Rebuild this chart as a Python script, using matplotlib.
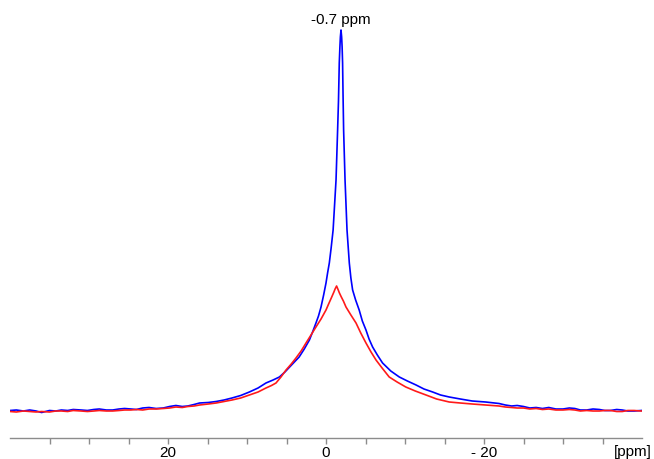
import matplotlib
matplotlib.use("Agg")
import matplotlib.pyplot as plt

plt.rcParams['font.family'] = ['Liberation Sans', 'DejaVu Sans']

# Blue spectrum (ppm, intensity)
blue_ppm = [40.0, 39.2, 38.3, 37.5, 36.7, 36.0, 35.0, 34.2, 33.5, 32.7, 32.0, 31.0, 30.2, 29.4,
            28.7, 27.8, 27.0, 26.2, 25.5, 24.7, 24.0, 23.2, 22.4, 21.5, 20.6, 19.8,
            19.0, 18.2, 17.5, 16.7, 16.0, 14.9, 13.9, 12.9, 11.9, 10.8, 9.7, 8.6, 7.6, 6.7,
            5.9, 5.2, 4.6, 4.0, 3.4, 2.75, 2.1, 1.7, 1.27, 0.95, 0.63, 0.3, 0.0,
            -0.2, -0.42, -0.65, -0.9, -1.27, -1.47, -1.58, -1.68, -1.76, -1.82, -1.9,
            -1.98, -2.04, -2.10, -2.16, -2.23, -2.41, -2.66, -2.95, -3.15,
            -3.37, -3.75, -4.2, -4.6, -5.06, -5.45, -5.9, -6.5, -7.16, -8.2, -9.28,
            -10.3, -11.4, -12.4, -13.5, -14.5, -15.6, -17.0, -18.5, -20.2, -21.9,
            -22.7, -23.5, -24.2, -25.0, -25.8, -26.6, -27.4, -28.2, -29.1, -30.0, -30.8,
            -31.5, -32.2, -33.0, -33.8, -34.6, -35.3, -36.0, -36.8, -37.5, -38.2, -39.0, -39.9]
blue_int = [0.5, 1.0, 0.0, 1.0, 0.0, -1.5, 0.5, 0.0, 1.0, 0.5, 1.5, 1.0, 0.5, 1.5,
            2.0, 1.0, 1.0, 2.0, 2.5, 2.0, 1.5, 3.0, 3.5, 2.5, 3.0, 4.5,
            5.5, 4.5, 5.0, 6.5, 8.0, 8.5, 9.5, 11.0, 13.0, 15.5, 19.0, 23.0, 28.0, 31.0,
            34.0, 39.0, 44.0, 49.0, 54.0, 62.0, 71.0, 79.0, 88.0, 95.0, 104.0, 116.0, 128.0,
            138.0, 148.0, 163.0, 181.0, 231.0, 281.0, 310.0, 348.0, 364.0, 374.0, 381.0,
            374.0, 364.0, 348.0, 315.0, 281.0, 231.0, 181.0, 148.0, 133.0,
            121.0, 111.0, 101.0, 90.0, 81.0, 72.0, 64.0, 56.0, 48.0, 40.0, 34.0,
            30.0, 26.0, 22.0, 19.0, 16.0, 14.0, 12.0, 10.0, 9.0, 7.5,
            6.0, 5.0, 5.5, 4.5, 3.0, 3.5, 2.5, 3.5, 2.0, 2.0, 3.0,
            2.5, 1.0, 1.0, 2.0, 1.5, 0.5, 0.5, 1.5, 1.0, 0.0, 0.0, 0.5]

# Red spectrum (ppm, intensity)
red_ppm = [40.0, 39.2, 38.3, 37.5, 36.7, 36.0, 35.0, 34.2, 33.5, 32.7, 32.0, 31.0, 30.2, 29.4,
           28.7, 27.8, 27.0, 26.2, 25.5, 24.7, 24.0, 23.2, 22.4, 21.5, 20.6, 19.8,
           19.0, 18.2, 17.5, 16.7, 16.0, 14.9, 13.9, 12.9, 11.9, 10.8, 9.7, 8.6, 7.6, 6.9, 6.33,
           5.7, 5.06, 4.4, 3.8, 3.15, 2.53, 1.9, 1.27, 0.63, 0.0,
           -0.33, -0.67, -1.0, -1.15, -1.34, -1.55, -1.7, -1.94, -2.2, -2.53, -3.15, -3.8,
           -4.4, -5.06, -5.7, -6.33, -7.1, -8.0, -9.0, -10.1, -11.3, -12.66, -14.0, -15.6,
           -17.0, -18.5, -20.2, -21.9, -22.7, -23.5, -24.2, -25.0, -25.8, -26.6, -27.4,
           -28.2, -29.1, -30.0, -30.8, -31.5, -32.2, -33.0, -33.8, -34.6, -35.3, -36.0,
           -36.8, -37.5, -38.2, -39.0, -39.9]
red_int = [-0.5, -1.0, 0.0, -0.5, -1.0, -0.5, -1.0, 0.0, 0.0, -0.5, 0.5, 0.0, -0.5, 0.0,
           0.5, 0.0, 0.0, 0.5, 1.0, 1.0, 1.5, 1.0, 2.0, 2.0, 2.5, 3.0,
           4.0, 3.5, 4.5, 5.0, 6.0, 7.0, 8.0, 9.5, 11.0, 13.0, 16.0, 19.0, 23.0, 25.5, 28.0,
           34.0, 41.0, 47.0, 53.0, 60.0, 68.0, 76.0, 84.0, 92.0, 101.0,
           107.0, 113.0, 119.0, 122.0, 125.0, 121.0, 118.0, 114.0, 110.0, 104.0, 96.0, 88.0,
           78.0, 68.0, 59.0, 51.0, 43.0, 34.0, 29.0, 24.0, 20.0, 16.0, 12.0, 9.0,
           8.0, 7.0, 6.0, 5.0, 4.0, 3.5, 3.0, 3.0, 2.0, 2.5, 1.5,
           2.0, 1.0, 1.0, 1.5, 1.0, 0.0, 0.5, 0.0, 0.0, 0.5, 0.5,
           -0.5, -0.5, 0.5, 0.5, 0.0]

tick_major = [20, 0, -20]
tick_labels = ["20", "0", "- 20"]
tick_minor = [35, 30, 25, 15, 10, 5, -5, -10, -15, -25, -30, -35]
peak_label = "-0.7 ppm"
peak_label_ppm = -1.9

W, H = 654, 459
fig = plt.figure(figsize=(W / 100, H / 100), dpi=100)
ax = fig.add_axes([10 / W, (H - 438) / H, (642 - 10) / W, (438 - 20) / H])

ax.plot(blue_ppm, blue_int, color='#0000ff', lw=1.2)
ax.plot(red_ppm, red_int, color='#ff1a1a', lw=1.2)

ax.set_xlim(40, -40)
ax.set_ylim(-27, 391)

for s in ['top', 'right', 'left']:
    ax.spines[s].set_visible(False)
ax.spines['bottom'].set_color('#8c8c8c')
ax.spines['bottom'].set_linewidth(1.0)
ax.set_yticks([])
ax.set_xticks(tick_major)
ax.set_xticklabels(tick_labels)
ax.set_xticks(tick_minor, minor=True)
ax.tick_params(axis='x', which='both', direction='out', length=4, width=1.0,
               color='#8c8c8c', labelsize=11, pad=2, labelcolor='black')

ax.text(peak_label_ppm, 391, peak_label, ha='center', va='center', fontsize=11)
fig.text(652 / W, (H - 452) / H, "[ppm]", ha='right', va='center', fontsize=11)

fig.savefig("out.png", dpi=100)
